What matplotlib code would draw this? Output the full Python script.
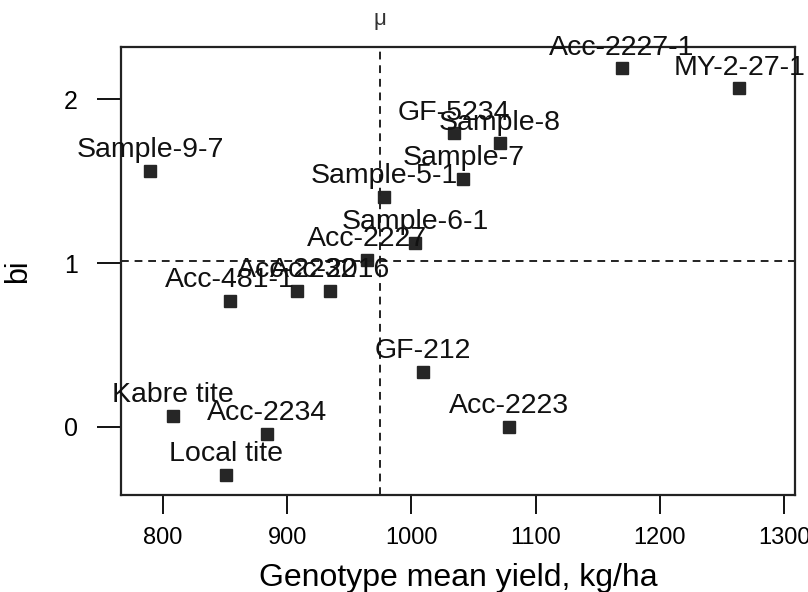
import matplotlib
matplotlib.use('Agg')
import matplotlib.pyplot as plt

# genotype names, mean yield (kg/ha) and regression coefficient bi
names = ['Sample-9-7', 'Acc-481-1', 'Acc-2232', 'Acc-2016', 'Acc-2227',
         'GF-212', 'Acc-2223', 'Kabre tite', 'Acc-2234', 'Local tite',
         'Acc-2227-1', 'MY-2-27-1', 'GF-5234', 'Sample-8', 'Sample-7',
         'Sample-5-1', 'Sample-6-1']
yield_mean = [789.5, 853.9, 907.6, 934.5, 964.0,
              1009.1, 1078.8, 807.8, 883.5, 850.7,
              1169.3, 1264.0, 1034.3, 1071.3, 1041.8,
              977.9, 1002.9]
bi = [1.564, 0.770, 0.831, 0.831, 1.018,
      0.332, 0.0, 0.065, -0.045, -0.295,
      2.189, 2.067, 1.792, 1.731, 1.515,
      1.405, 1.124]

mu = 974.7
bi_ref = 1.01

x_ticks = [800, 900, 1000, 1100, 1200, 1300]
y_ticks = [0, 1, 2]

plt.rcParams['font.family'] = ['Liberation Sans', 'DejaVu Sans']

fig = plt.figure(figsize=(8.08, 5.92), dpi=100)
ax = fig.add_axes([0.1498, 0.1639, 0.8342, 0.7567])

ax.plot(yield_mean, bi, 's', color='#262626', markersize=8, linestyle='none')

for name, x, y in zip(names, yield_mean, bi):
    ax.annotate(name, (x, y), xytext=(0, 10), textcoords='offset points',
                ha='center', va='baseline', fontsize=20.5, color='#111111',
                annotation_clip=False)

ax.axvline(mu, color='#222222', lw=1.4, linestyle=(0, (4, 3)))
ax.axhline(bi_ref, color='#222222', lw=1.4, linestyle=(0, (4, 3)))
ax.text(mu, 2.49, '\u03bc', ha='center', va='center', fontsize=16, color='#333333')

ax.set_xlim(766.2, 1308.9)
ax.set_ylim(-0.417, 2.32)
ax.set_xticks(x_ticks)
ax.set_yticks(y_ticks)
ax.tick_params(axis='x', length=14, width=1.3, pad=9, labelsize=17)
ax.tick_params(axis='y', length=17, width=1.3, pad=14, labelsize=18)

for sp in ax.spines.values():
    sp.set_linewidth(1.6)
    sp.set_color('#222222')

ax.set_xlabel('Genotype mean yield, kg/ha', fontsize=23, labelpad=10)
ax.set_ylabel('bi', fontsize=22, labelpad=22)

fig.savefig('out.png', dpi=100)
